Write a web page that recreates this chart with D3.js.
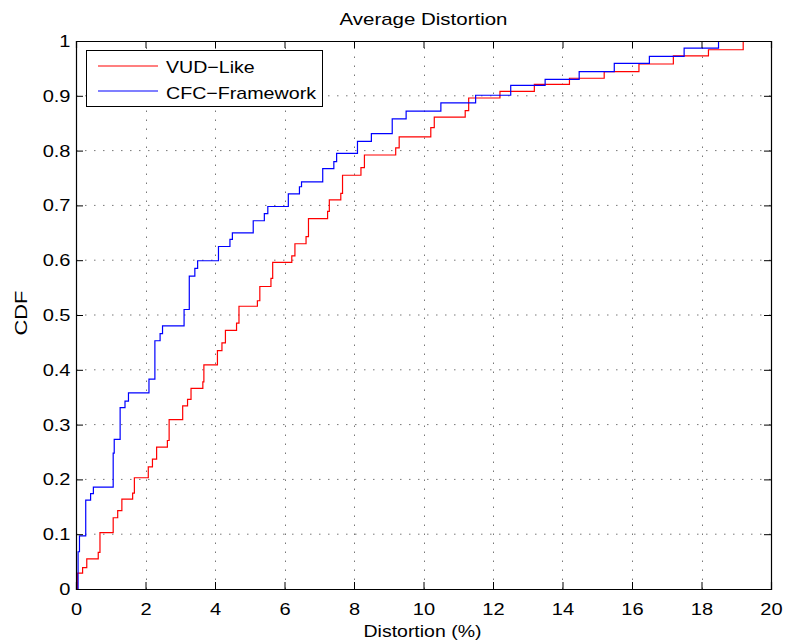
<!DOCTYPE html>
<html>
<head>
<meta charset="utf-8">
<script src="https://cdn.jsdelivr.net/npm/d3@7"></script>
<style>
  html, body { margin: 0; padding: 0; background: #fff; }
  svg { display: block; font-family: "Liberation Sans", Arial, Helvetica, sans-serif; }
</style>
</head>
<body>
<svg id="chart" width="785" height="644"></svg>
<script>
// Empirical CDF steps: distortion (%) where each step occurs and the CDF after it
const vudX = [0.04, 0.19, 0.31, 0.64, 0.69, 1.07, 1.2, 1.32, 1.63, 1.68, 2.08, 2.2, 2.32, 2.63, 2.68,
  3.07, 3.21, 3.31, 3.65, 3.68, 4.07, 4.2, 4.3, 4.62, 4.69, 5.22, 5.29, 5.61, 5.66, 6.21, 6.3,
  6.62, 6.69, 7.24, 7.29, 7.62, 7.67, 8.2, 8.3, 9.2, 9.3, 10.21, 10.31, 11.2, 11.3, 12.2,
  13.19, 14.2, 15.2, 16.2, 17.19, 18.2, 19.2];
const vudY = [0.029, 0.039, 0.055, 0.067, 0.103, 0.13, 0.143, 0.164, 0.175, 0.203, 0.223, 0.237, 0.259, 0.271, 0.309,
  0.334, 0.346, 0.366, 0.378, 0.409, 0.435, 0.449, 0.472, 0.485, 0.516, 0.526, 0.552, 0.567, 0.596, 0.608, 0.63,
  0.643, 0.676, 0.689, 0.71, 0.722, 0.755, 0.769, 0.792, 0.805, 0.825, 0.842, 0.861, 0.873, 0.896, 0.908,
  0.921, 0.932, 0.944, 0.958, 0.973, 0.984, 1.0];

const cfcX = [0.06, 0.1, 0.28, 0.42, 0.5, 1.07, 1.1, 1.27, 1.41, 1.51, 2.1, 2.27, 2.42, 2.49, 3.11,
  3.26, 3.42, 3.5, 4.1, 4.43, 4.5, 5.1, 5.42, 5.52, 6.11, 6.43, 6.49, 7.1, 7.42, 7.5, 8.1,
  8.5, 9.1, 9.5, 10.5, 11.5, 12.51, 13.5, 14.48, 15.49, 16.5, 17.5, 18.49];
const cfcY = [0.068, 0.097, 0.162, 0.174, 0.186, 0.248, 0.273, 0.331, 0.343, 0.358, 0.383, 0.453, 0.466, 0.48, 0.51,
  0.571, 0.585, 0.599, 0.625, 0.638, 0.65, 0.672, 0.685, 0.698, 0.721, 0.734, 0.743, 0.767, 0.78, 0.795, 0.817,
  0.831, 0.858, 0.872, 0.887, 0.901, 0.919, 0.93, 0.944, 0.959, 0.972, 0.987, 1.0];

const xTicks = [0, 2, 4, 6, 8, 10, 12, 14, 16, 18, 20];
const yTicks = [0, 0.1, 0.2, 0.3, 0.4, 0.5, 0.6, 0.7, 0.8, 0.9, 1];
const seriesNames = ["VUD\u2212Like", "CFC\u2212Framework"];
const seriesColors = ["#ff0000", "#0000ff"];

const plotLeft = 76, plotRight = 771, plotTop = 41, plotBottom = 589;
const svg = d3.select("#chart");

const x = d3.scaleLinear().domain([0, 20]).range([plotLeft, plotRight]);
const y = d3.scaleLinear().domain([0, 1]).range([plotBottom, plotTop]);

const fs = 17;
const sx = 1.18; // glyph widening used for tick labels

// Dotted grid
const grid = svg.append("g").attr("stroke", "#777").attr("stroke-width", 1).attr("stroke-dasharray", "1.5,7.5");
grid.selectAll(".gx").data(xTicks.slice(1, -1)).join("line")
  .attr("x1", d => Math.round(x(d)) + 0.5).attr("x2", d => Math.round(x(d)) + 0.5)
  .attr("y1", plotBottom).attr("y2", plotTop);
grid.selectAll(".gy").data(yTicks.slice(1, -1)).join("line")
  .attr("x1", plotLeft).attr("x2", plotRight)
  .attr("y1", d => y(d)).attr("y2", d => y(d));

// Step curves
const line = d3.line().x(d => x(d[0])).y(d => y(d[1])).curve(d3.curveStepAfter);
function stepPoints(xs, ys) {
  const pts = [[xs[0], 0]];
  xs.forEach((v, i) => pts.push([v, ys[i]]));
  return pts;
}
svg.append("path").datum(stepPoints(vudX, vudY)).attr("d", line)
  .attr("fill", "none").attr("stroke", seriesColors[0]).attr("stroke-width", 1.2);
svg.append("path").datum(stepPoints(cfcX, cfcY)).attr("d", line)
  .attr("fill", "none").attr("stroke", seriesColors[1]).attr("stroke-width", 1.2);

// Axes with inward ticks on all four sides
const axB = svg.append("g").attr("transform", `translate(0,${plotBottom})`)
  .call(d3.axisBottom(x).tickValues(xTicks).tickSize(-7).tickPadding(14).tickFormat(d3.format("d")));
const axT = svg.append("g").attr("transform", `translate(0,${plotTop})`)
  .call(d3.axisTop(x).tickValues(xTicks).tickSize(-7).tickFormat(""));
const axL = svg.append("g").attr("transform", `translate(${plotLeft},0)`)
  .call(d3.axisLeft(y).tickValues(yTicks).tickSize(-7).tickPadding(5).tickFormat(d => String(+d.toFixed(1))));
const axR = svg.append("g").attr("transform", `translate(${plotRight},0)`)
  .call(d3.axisRight(y).tickValues(yTicks).tickSize(-7).tickFormat(""));

[axB, axT, axL, axR].forEach(g => {
  g.select(".domain").attr("stroke", "#000").attr("stroke-width", 1.2);
  g.selectAll(".tick line").attr("stroke", "#000").attr("stroke-width", 1);
  g.selectAll("text").attr("font-size", fs).attr("font-family", null).attr("fill", "#000");
});
axB.selectAll(".tick text").attr("transform", `scale(${sx},1)`);
axL.selectAll(".tick text").attr("x", -5.5 / sx).attr("transform", `scale(${sx},1)`);

// Titles
function label(txt, px, py, width, rotate) {
  return svg.append("text").text(txt)
    .attr("transform", `translate(${px},${py})` + (rotate ? " rotate(-90)" : ""))
    .attr("text-anchor", "middle").attr("font-size", fs).attr("fill", "#000")
    .attr("textLength", width).attr("lengthAdjust", "spacingAndGlyphs");
}
label("Average Distortion", (plotLeft + plotRight) / 2, 25, 168, false);
label("Distortion (%)", (plotLeft + plotRight) / 2 - 1, 637, 118, false);
label("CDF", 26.5, 313, 45, true);

// Legend
const legend = svg.append("g");
legend.append("rect").attr("x", 86.5).attr("y", 50.5).attr("width", 236).attr("height", 56)
  .attr("fill", "#fff").attr("stroke", "#000").attr("stroke-width", 1);
const legRows = [{ y: 66, base: 73, w: 88.7 }, { y: 91, base: 99, w: 150 }];
legRows.forEach((r, i) => {
  legend.append("line").attr("x1", 98).attr("x2", 158).attr("y1", r.y).attr("y2", r.y)
    .attr("stroke", seriesColors[i]).attr("stroke-width", 1.2);
  legend.append("text").text(seriesNames[i]).attr("x", 166).attr("y", r.base)
    .attr("font-size", fs).attr("fill", "#000")
    .attr("textLength", r.w).attr("lengthAdjust", "spacingAndGlyphs");
});
</script>
</body>
</html>
